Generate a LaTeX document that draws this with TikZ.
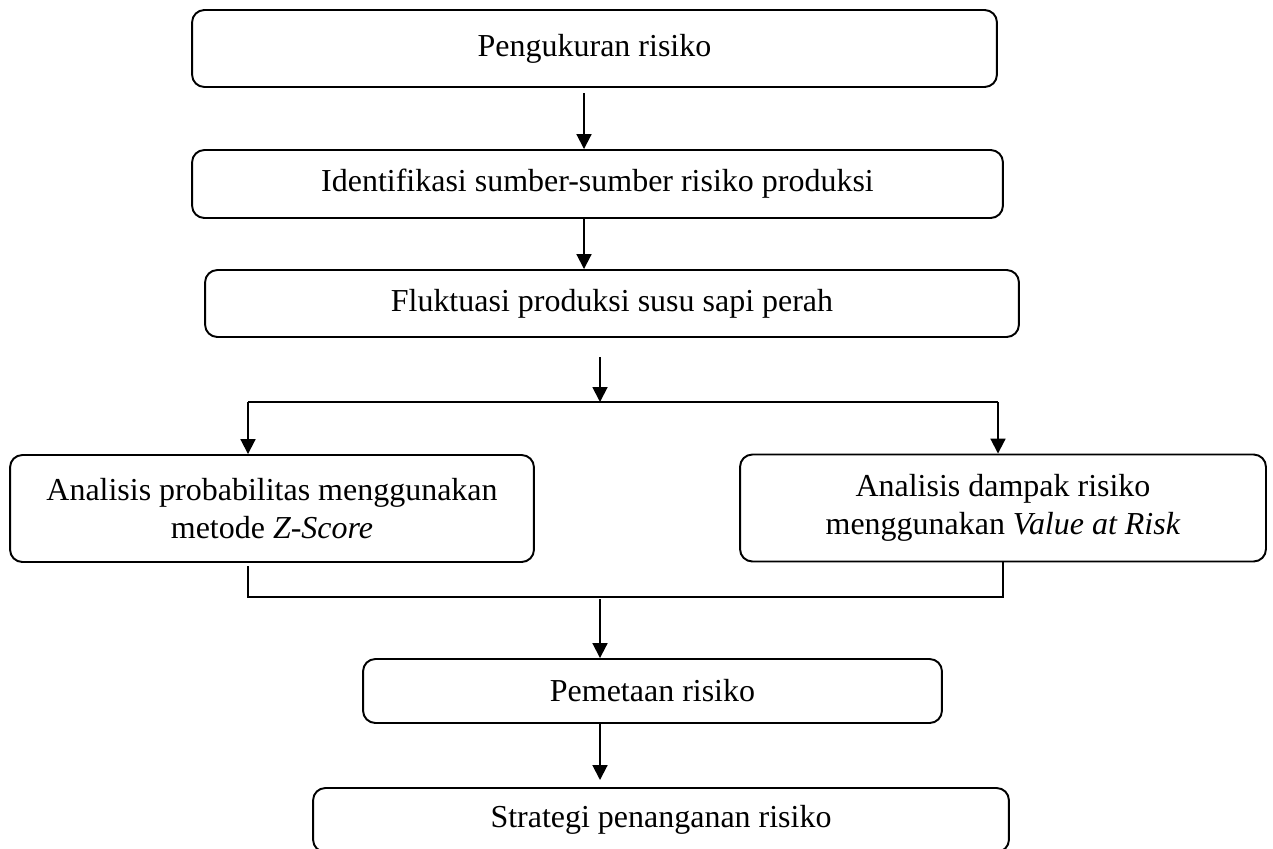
\documentclass[tikz,border=0pt]{standalone}
\usepackage{fontspec}
\setmainfont{Liberation Serif}
\usetikzlibrary{arrows.meta}

\begin{document}
\begin{tikzpicture}[x=0.02cm,y=-0.02cm,
    kotak/.style={draw, line width=1.1pt, rounded corners=7pt, align=center, inner sep=0pt,
      font=\fontsize{18.2}{22}\selectfont},
    panah/.style={line width=1.1pt, -{Triangle[length=8.5pt,width=8.5pt]}},
    garis/.style={line width=0.6pt}]
        \clip (0,0) rectangle (1273,848);

        \node[kotak, minimum width=16.1cm, minimum height=1.54cm] (ukur) at (594.5,48.5) {Pengukuran risiko};
        \node[kotak, minimum width=16.22cm, minimum height=1.36cm] (identif) at (597.5,184) {Identifikasi sumber-sumber risiko produksi};
        \node[kotak, minimum width=16.28cm, minimum height=1.34cm] (fluktuasi) at (612,303.5) {Fluktuasi produksi susu sapi perah};

        \node[kotak, minimum width=10.48cm, minimum height=2.14cm] (zscore) at (272,508.5)
          {Analisis probabilitas menggunakan\\ metode \textit{Z-Score}};
        \node[kotak, minimum width=10.52cm, minimum height=2.14cm] (var) at (1003,508)
          {Analisis dampak risiko\\ menggunakan \textit{Value at Risk}};

        \node[kotak, minimum width=11.58cm, minimum height=1.28cm] (peta) at (652.5,691) {Pemetaan risiko};
        \node[kotak, minimum width=13.92cm, minimum height=1.28cm] (strategi) at (661,820) {Strategi penanganan risiko};

        % titik bantu
        \coordinate (p1) at (584,0);
        \coordinate (cabang0) at (600,357);
        \coordinate (cabang) at (600,402);
        \coordinate (ki) at (248,402);
        \coordinate (ka) at (998,402);
        \coordinate (gki) at (248,597);
        \coordinate (gka) at (1003,597);
        \coordinate (gabung) at (600,599);

        \draw[panah] ([yshift=-3]ukur.south -| p1) -- (identif.north -| p1);
        \draw[panah] (identif.south -| p1) -- (fluktuasi.north -| p1);
        \draw[panah] (cabang0) -- (cabang);

        \draw[garis] (ki) -- (ka);
        \draw[panah] (ki) -- (ki |- zscore.north);
        \draw[panah] (ka) -- (ka |- var.north);

        \draw[garis] ([yshift=-2]gki |- zscore.south) -- (gki) -- (gka) -- (gka |- var.south);
        \draw[panah] (gabung) -- (gabung |- peta.north);
        \draw[panah] (gabung |- peta.south) -- ([yshift=4]gabung |- strategi.north);
\end{tikzpicture}
\end{document}
